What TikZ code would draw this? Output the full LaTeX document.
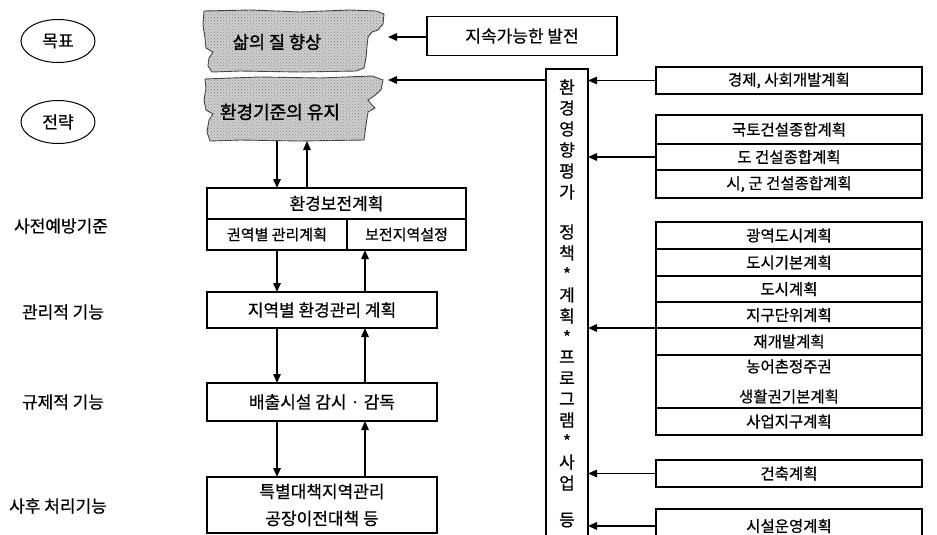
\documentclass[tikz,border=0pt]{standalone}
\usepackage{fontspec}
\setmainfont{Noto Sans CJK KR}[FakeBold=0.6]
\newfontfamily\krbold{Noto Sans CJK KR}[FakeBold=1.6]
\usetikzlibrary{arrows.meta,shapes.geometric,patterns,calc}
\begin{document}
\begin{tikzpicture}[x=1pt,y=-1pt,
 bx/.style={draw, line width=1.5pt, inner sep=0pt, outer sep=0pt, align=center, font=\fontsize{17}{27}\selectfont},
 sb/.style={draw, line width=1.5pt, inner sep=0pt, outer sep=0pt, align=center, font=\fontsize{15}{18}\selectfont},
 rb/.style={draw, line width=1.3pt, inner sep=0pt, outer sep=0pt, minimum width=266pt, align=center, font=\fontsize{15.5}{30}\selectfont},
 arr/.style={line width=1.4pt, -{Triangle[length=9pt,width=7.5pt]}},
 lab/.style={font=\fontsize{17}{20}\selectfont, inner sep=0pt},
 oval/.style={ellipse, draw, line width=1pt, minimum width=74pt, minimum height=43pt, inner sep=0pt, font=\fontsize{17}{20}\selectfont},
 torn/.style={fill=gray!38, draw=black!75, line width=0.9pt},
 tornpat/.style={pattern=crosshatch dots, pattern color=black!45},
 vch/.style={font=\fontsize{17}{20}\selectfont, inner sep=0pt}]
\useasboundingbox (0,0) rectangle (937,535);
\clip (0,0) rectangle (937,535);

% left ovals and labels
\node[oval] (goal) at (58,41) {목표};
\node[oval] (strat) at (58,122) {전략};
\node[lab] (l1) at (61,226) {사전예방기준};
\node[lab] (l2) at (63,312) {관리적 기능};
\node[lab] (l3) at (63,402) {규제적 기능};
\node[lab] (l4) at (58,506) {사후 처리기능};

% torn grey boxes
\def\tornA{(204,11) -- (250,10) -- (300,12) -- (350,10) -- (376,11) -- (384,14) -- (383,24) -- (378,30) -- (372,32) -- (368,37) -- (367,46) -- (366,58) -- (364,68) -- (356,71) -- (300,72) -- (240,71) -- (212,72) -- (208,66) -- (209,58) -- (213,52) -- (206,48) -- (205,38) -- (203,25) -- cycle}
\def\tornB{(205,79) -- (260,77) -- (320,78) -- (372,76) -- (383,80) -- (381,90) -- (374,96) -- (368,100) -- (371,104) -- (375,108) -- (368,112) -- (366,125) -- (364,140) -- (300,141) -- (240,140) -- (210,141) -- (207,132) -- (209,120) -- (213,114) -- (206,110) -- (204,100) -- (206,88) -- cycle}
\path[torn] \tornA;
\path[tornpat] \tornA;
\path[torn] \tornB;
\path[tornpat] \tornB;
\node[lab, font=\krbold\fontsize{17.5}{20}\selectfont] (q) at (277,42) {삶의 질 향상};
\node[lab, font=\krbold\fontsize{18}{20}\selectfont] (std) at (280,112) {환경기준의 유지};
\coordinate (g1r) at (388,37);
\coordinate (g2r) at (388,80);
\coordinate (g2b1) at (277,141);
\coordinate (g2b2) at (307,141);

% top right box
\node[bx, minimum width=190pt, minimum height=39pt] (sd) at (522,36) {지속가능한 발전};
\draw[arr] (sd.west |- g1r) -- (g1r);

% vertical EIA box
\node[draw, line width=1.5pt, inner sep=0pt, outer sep=0pt, minimum width=42pt, minimum height=531pt] (eia) at (567,334.5) {};
\foreach \c/\y [count=\i] in {환/87,경/108,영/129,향/150,평/171,가/192,정/232,책/253,*/274,계/295,획/316,*/337,프/357,로/378,그/399,램/420,*/441,사/462,업/483,등/520}
  \node[vch] (v\i) at (567,\y) {\c};
\draw[arr] (eia.west |- g2r) -- (g2r);

% right column
\node[rb, minimum height=27pt] (econ) at (789,80.5) {경제, 사회개발계획};
\node[rb, minimum height=29pt] (g1a) at (789,129.5) {국토건설종합계획};
\node[rb, minimum height=26pt] (g1b) at (789,157) {도 건설종합계획};
\node[rb, minimum height=28pt] (g1c) at (789,184) {시, 군 건설종합계획};
\node[rb, minimum height=27pt] (g2a) at (789,235.5) {광역도시계획};
\node[rb, minimum height=27pt] (g2b) at (789,262.5) {도시기본계획};
\node[rb, minimum height=26pt] (g2c) at (789,289) {도시계획};
\node[rb, minimum height=26pt] (g2d) at (789,315) {지구단위계획};
\node[rb, minimum height=27pt] (g2e) at (789,341.5) {재개발계획};
\node[rb, minimum height=53pt] (g2f) at (789,381.5) {농어촌정주권\\생활권기본계획};
\node[rb, minimum height=27pt] (g2g) at (789,421.5) {사업지구계획};
\node[rb, minimum height=27pt] (arch) at (789,473.5) {건축계획};
\node[rb, minimum height=34pt] (sis) at (789,526) {시설운영계획};
\draw[arr] (econ.west) -- (econ.west -| eia.east);
\draw[arr] (g1b.west) -- (g1b.west -| eia.east);
\draw[arr] (g2d.south west) -- (g2d.south west -| eia.east);
\draw[arr] (arch.west) -- (arch.west -| eia.east);
\draw[arr] (sis.west) -- (sis.west -| eia.east);

% left chain
\node[bx, minimum width=259pt, minimum height=31pt] (hb) at (336.5,203.5) {환경보전계획};
\node[sb, minimum width=140pt, minimum height=31pt] (hc1) at (277,234.5) {권역별 관리계획};
\node[sb, minimum width=119pt, minimum height=31pt] (hc2) at (406.5,234.5) {보전지역설정};
\node[bx, minimum width=230pt, minimum height=36pt] (jy) at (322,310) {지역별 환경관리 계획};
\node[bx, minimum width=230pt, minimum height=38pt] (bc) at (322,402) {배출시설 감시 · 감독};
\node[bx, minimum width=230pt, minimum height=56pt] (tb) at (322,505) {특별대책지역관리\\공장이전대책 등};

\coordinate (dx) at (277,0);
\coordinate (ux) at (365,0);
\draw[arr] (g2b1) -- (g2b1 |- hb.north);
\draw[arr] (hb.north -| g2b2) -- (g2b2);
\draw[arr] (dx |- hc1.south) -- (dx |- jy.north);
\draw[arr] (ux |- jy.north) -- (ux |- hc2.south);
\draw[arr] (dx |- jy.south) -- (dx |- bc.north);
\draw[arr] (ux |- bc.north) -- (ux |- jy.south);
\draw[arr] (dx |- bc.south) -- (dx |- tb.north);
\draw[arr] (ux |- tb.north) -- (ux |- bc.south);
\end{tikzpicture}
\end{document}
